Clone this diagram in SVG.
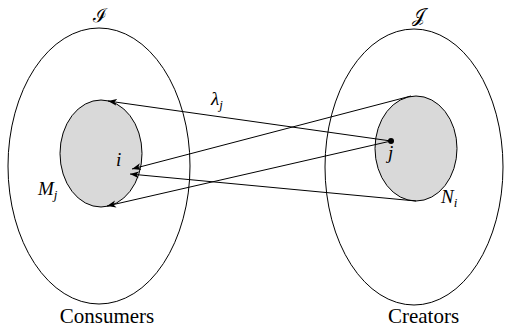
<svg xmlns="http://www.w3.org/2000/svg" width="505" height="333" viewBox="0 0 505 333">
<style>
.outer{fill:none;stroke:#000;stroke-width:1}
.inner{fill:#d9d9d9;stroke:#000;stroke-width:1}
.conn{stroke:#000;stroke-width:1;fill:none;marker-end:url(#ah)}
.cap{font-family:'Liberation Serif','Times New Roman',serif;font-size:21px;fill:#000;text-anchor:middle}
.math{font-family:'Liberation Serif','Times New Roman',serif;font-style:italic;font-size:19px;fill:#000}
.sub{font-size:13px}
.cal{font-family:'DejaVu Serif','Noto Sans','DejaVu Sans',serif;font-size:19px;fill:#000;text-anchor:middle}
</style>
<defs>
<marker id="ah" markerWidth="10" markerHeight="8" refX="9" refY="4" orient="auto" markerUnits="userSpaceOnUse">
<path d="M0,0.5 L9,4 L0,7.5 L2.5,4 z" fill="#000"/>
</marker>
</defs>
<g id="consumers">
<ellipse class="outer" cx="99" cy="166" rx="91" ry="138"/>
<text class="cal" x="100" y="22">ℐ</text>
<text class="cap" x="107" y="323">Consumers</text>
</g>
<g id="Mj">
<ellipse class="inner" cx="101" cy="153.5" rx="41" ry="53.5"/>
<text class="math" x="116" y="166">i</text>
<text class="math" x="38" y="195">M<tspan class="sub" dy="4">j</tspan></text>
</g>
<g id="creators">
<ellipse class="outer" cx="414" cy="167" rx="89" ry="138"/>
<text class="cal" x="418" y="22">𝒥</text>
<text class="cap" x="423.5" y="323">Creators</text>
</g>
<g id="Ni">
<ellipse class="inner" cx="416" cy="148.5" rx="41" ry="52.5"/>
<circle cx="391" cy="141" r="3" fill="#000"/>
<text class="math" x="388" y="159">j</text>
<text class="math" x="441" y="203">N<tspan class="sub" dy="4">i</tspan></text>
</g>
<g id="connectors">
<line class="conn" x1="391" y1="141" x2="108" y2="101"/>
<line class="conn" x1="411" y1="96" x2="132" y2="169"/>
<line class="conn" x1="391" y1="141" x2="107" y2="206"/>
<line class="conn" x1="416" y1="201" x2="130" y2="174"/>
<text class="math" x="211" y="105">λ<tspan class="sub" dy="4">j</tspan></text>
</g>
</svg>
